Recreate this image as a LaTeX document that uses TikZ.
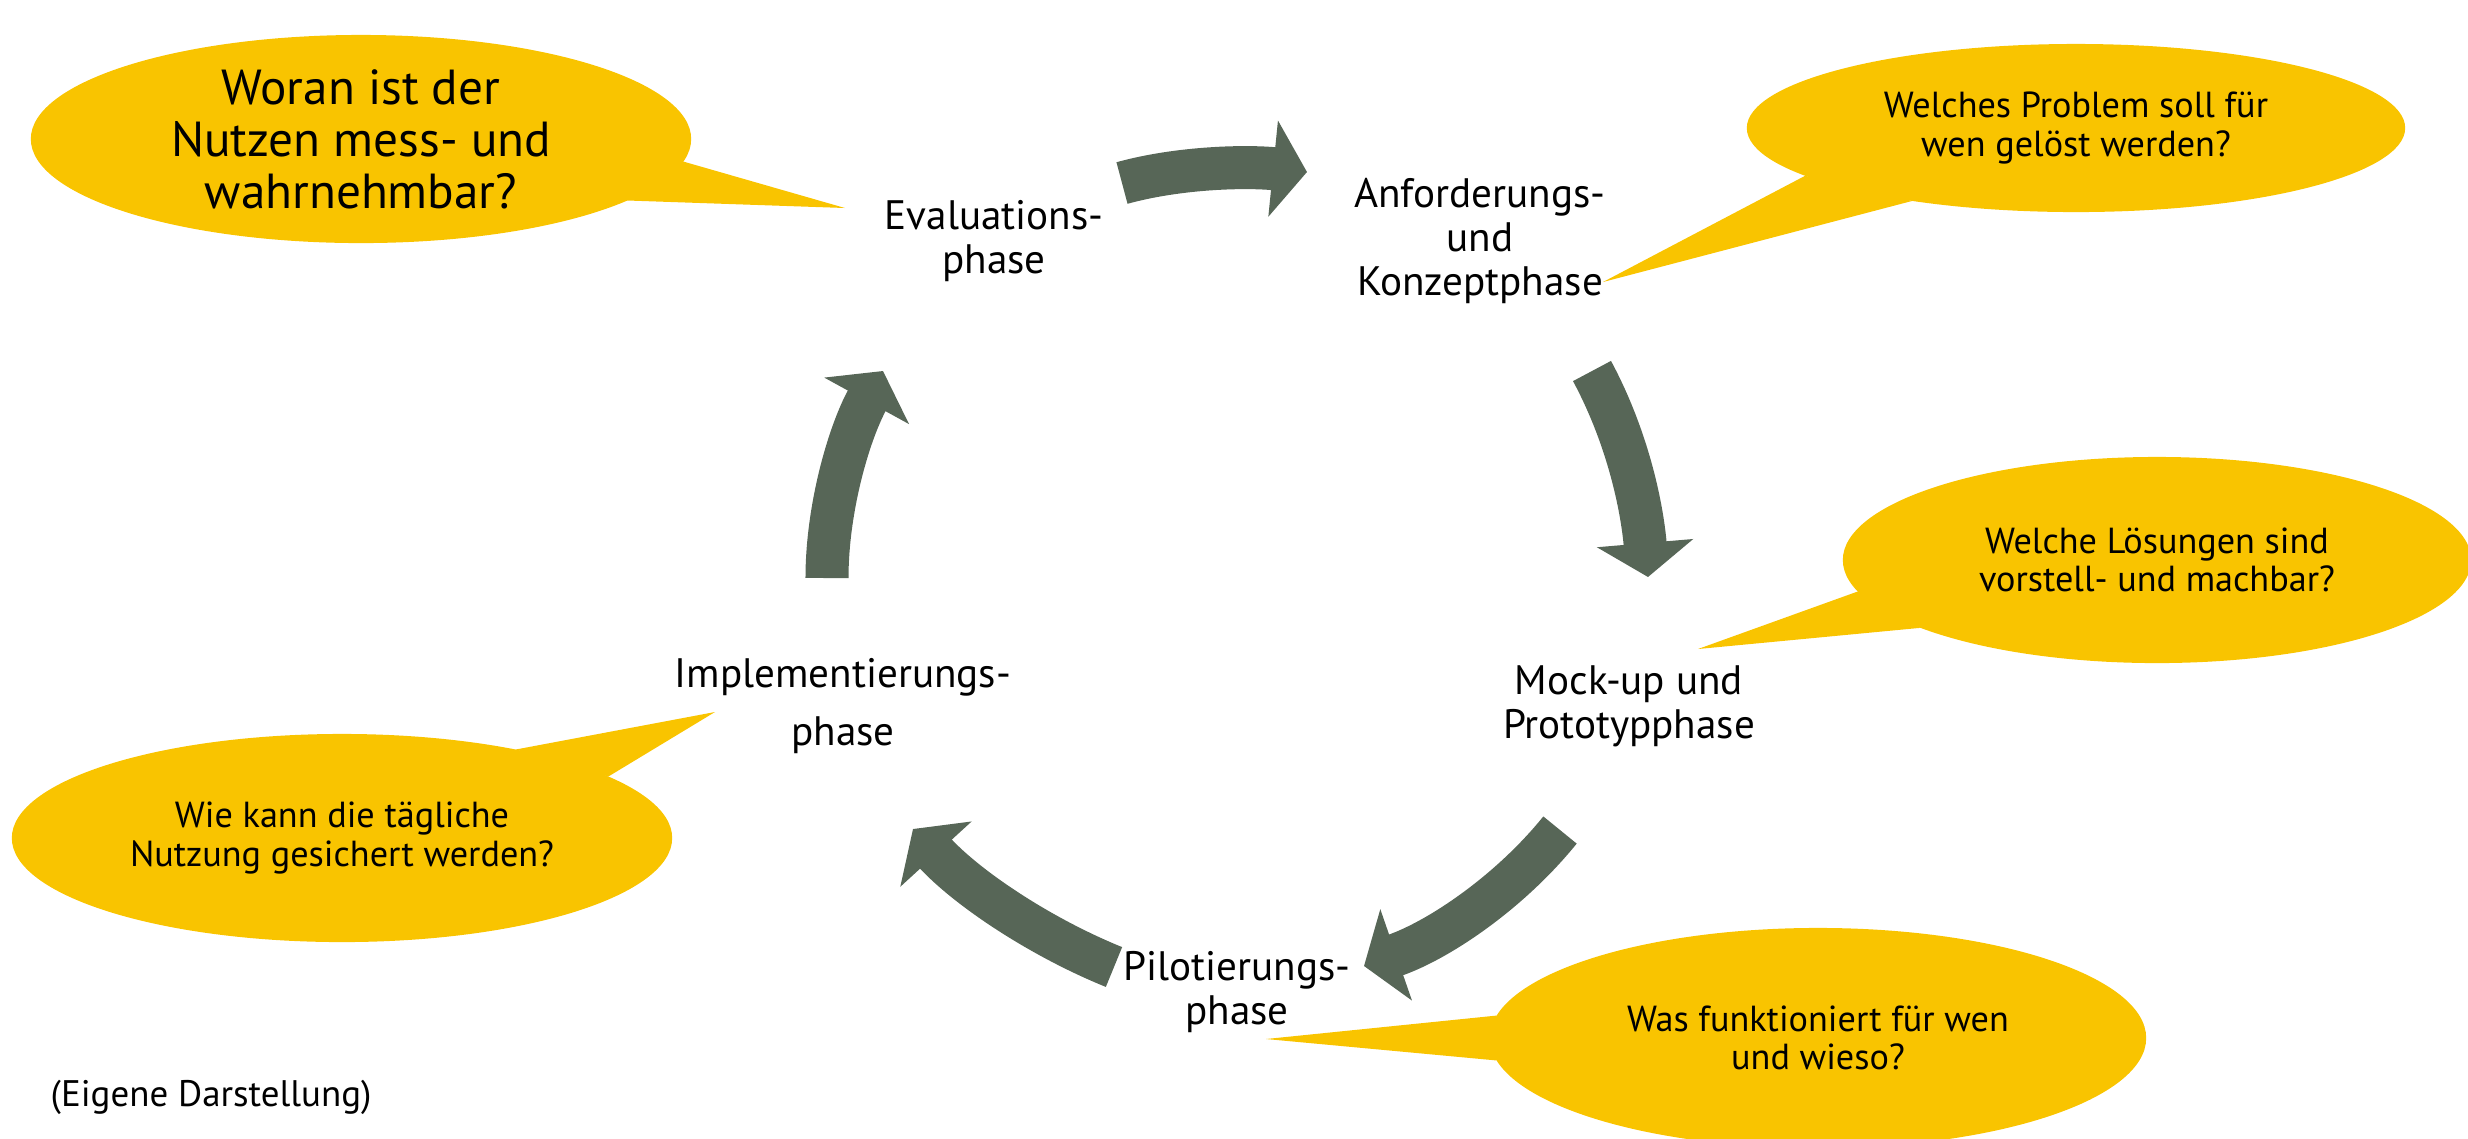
\documentclass[tikz,border=0pt]{standalone}
\usepackage{fontspec}
\setmainfont{PT Sans}
\usetikzlibrary{arrows.meta,shapes.geometric}
\definecolor{bubble}{RGB}{249,196,0}
\definecolor{flow}{RGB}{87,102,87}

\begin{document}
\begin{tikzpicture}[x=0.01cm, y=-0.01cm,
    phase/.style={align=center, font=\fontsize{11.7}{12.4}\selectfont},
    question/.style={ellipse, fill=bubble, inner sep=0pt, outer sep=0pt, align=center,
        font=\fontsize{10.3}{11}\selectfont},
    flowarrow/.style={line width=0.43cm, draw=flow, -{Triangle[width=0.95cm, length=0.34cm]}}]
    \useasboundingbox (0,0) rectangle (2468,1138);
    % Questions
    \node[question, minimum width=6.6cm, minimum height=2.08cm,
        font=\fontsize{14}{14.8}\selectfont] (qeval) at (361,139) {Woran ist der\\Nutzen mess- und\\wahrnehmbar?};
    \node[question, minimum width=6.58cm, minimum height=1.68cm] (qanf) at (2076,128) {Welches Problem soll für\\wen gelöst werden?};
    \node[question, minimum width=6.28cm, minimum height=2.06cm] (qmock) at (2157,560) {Welche Lösungen sind\\vorstell- und machbar?};
    \node[question, minimum width=6.56cm, minimum height=2.2cm] (qpilot) at (1818,1038) {Was funktioniert für wen\\und wieso?};
    \node[question, minimum width=6.6cm, minimum height=2.08cm] (qimpl) at (342,838) {Wie kann die tägliche\\Nutzung gesichert werden?};
    % Callout tails
    \coordinate (teval) at (845,208);
    \coordinate (tanf) at (1603,282);
    \coordinate (tmock) at (1698,649);
    \coordinate (tpilot) at (1266,1039);
    \coordinate (timpl) at (715,712);
    \fill[bubble] (qeval.-4) -- (teval) -- (qeval.-13) -- cycle;
    \fill[bubble] (qanf.190) -- (tanf) -- (qanf.204) -- cycle;
    \fill[bubble] (qmock.186) -- (tmock) -- (qmock.196) -- cycle;
    \fill[bubble] (qpilot.176) -- (tpilot) -- (qpilot.184) -- cycle;
    \fill[bubble] (qimpl.27) -- (timpl) -- (qimpl.13) -- cycle;
    % Phases
    \node[phase] (eval) at (994,241) {Evaluations-\\phase};
    \node[phase] (anf) at (1480,241) {Anforderungs-\\und\\Konzeptphase};
    \node[phase] (mock) at (1629,706) {Mock-up und\\Prototypphase};
    \node[phase] (pilot) at (1237,992) {Pilotierungs-\\phase};
    \node[phase] (impl) at (843,706) {Implementierungs-\\[4pt]phase};
    % Cycle arrows
    \coordinate (a1s) at (1122,183);  \coordinate (a1e) at (1307,172);
    \coordinate (a2s) at (1592,371);  \coordinate (a2e) at (1648,577);
    \coordinate (a3s) at (1560,830);  \coordinate (a3e) at (1364,966);
    \coordinate (a4s) at (1114,967);  \coordinate (a4e) at (913,829);
    \coordinate (a5s) at (827,578);   \coordinate (a5e) at (883,371);
    \draw[flowarrow] (a1s) .. controls (1180,167) and (1247,166) .. (a1e);
    \draw[flowarrow] (a2s) .. controls (1628,438) and (1642,507) .. (a2e);
    \draw[flowarrow] (a3s) .. controls (1510,892) and (1439,940) .. (a3e);
    \draw[flowarrow] (a4s) .. controls (1040,937) and (967,888) .. (a4e);
    \draw[flowarrow] (a5s) .. controls (827,508) and (849,433) .. (a5e);
    % Source
    \node[anchor=west, inner sep=0pt, font=\fontsize{10.5}{12}\selectfont] (source) at (50,1097) {(Eigene Darstellung)};
\end{tikzpicture}
\end{document}
